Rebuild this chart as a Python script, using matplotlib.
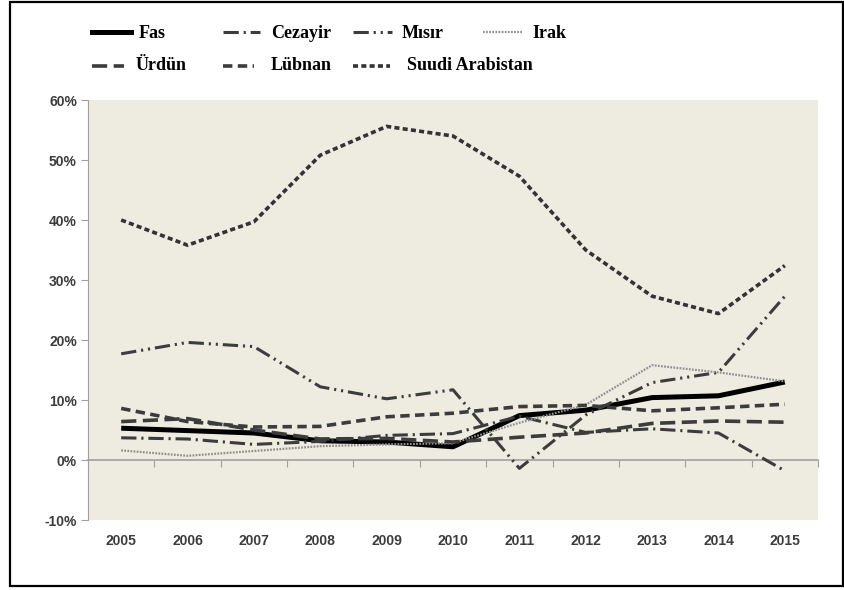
import numpy as np
from matplotlib import pyplot as plt
from matplotlib.lines import Line2D
from matplotlib.patches import Rectangle
from matplotlib.ticker import PercentFormatter

plt.rcParams["axes.unicode_minus"] = False

years = ["2005", "2006", "2007", "2008", "2009", "2010",
         "2011", "2012", "2013", "2014", "2015"]

fas = [5.3, 4.9, 4.5, 3.2, 3.0, 2.2, 7.4, 8.3, 10.4, 10.7, 13.0]
cezayir = [3.7, 3.5, 2.6, 3.1, 4.1, 4.4, 7.3, 4.6, 5.2, 4.5, -1.8]
misir = [17.7, 19.6, 18.9, 12.2, 10.2, 11.7, -1.4, 7.5, 12.9, 14.6, 27.3]
irak = [1.6, 0.7, 1.5, 2.3, 2.6, 2.8, 6.2, 9.2, 15.8, 14.6, 13.1]
urdun = [6.4, 6.9, 5.0, 3.5, 3.6, 3.0, 3.8, 4.5, 6.1, 6.5, 6.3]
lubnan = [8.6, 6.4, 5.5, 5.6, 7.2, 7.8, 8.9, 9.1, 8.2, 8.7, 9.3]
suudi = [40.0, 35.8, 39.7, 50.8, 55.6, 54.0, 47.3, 35.0, 27.3, 24.4, 32.4]

W, H = 845, 590
GRAY = "#a0a0a0"
DARK = "#3c3c3c"

# name, values, style
series = [
    ("Fas", fas, dict(color="black", lw=3.6, ls="-")),
    ("Cezayir", cezayir, dict(color=DARK, lw=2.2, ls=(0, (5, 1.6, 0.7, 1.6)))),
    ("Mısır", misir, dict(color=DARK, lw=2.2, ls=(0, (5, 1.6, 0.7, 1.6, 0.7, 1.6)))),
    ("Irak", irak, dict(color="#909090", lw=1.6, ls=(0, (0.8, 0.6)))),
    ("Ürdün", urdun, dict(color=DARK, lw=2.6, ls=(0, (4.2, 1.8)))),
    ("Lübnan", lubnan, dict(color=DARK, lw=2.6, ls=(0, (2.6, 1.5)))),
    ("Suudi Arabistan", suudi, dict(color="#333333", lw=2.6, ls=(0, (1.4, 0.9)))),
]

# legend layout in pixels: (handle x0, handle x1, text x, row)
legend_pos = {
    "Fas": (92, 131, 139, 0),
    "Cezayir": (223, 260, 271, 0),
    "Mısır": (353, 392, 402, 0),
    "Irak": (483, 522, 532, 0),
    "Ürdün": (92, 124, 136, 1),
    "Lübnan": (223, 254, 271, 1),
    "Suudi Arabistan": (353, 390, 407, 1),
}
row_line_y = [32, 66]
row_text_y = [38, 70]


def fx(px):
    return px / W


def fy(py):
    return 1 - py / H


def main():
    fig = plt.figure(figsize=(W / 100, H / 100), dpi=100)
    ax = fig.add_axes([fx(88), fy(520), fx(818) - fx(88), fy(100) - fy(520)])
    ax.set_facecolor("#eeebe1")

    x = np.arange(len(years))
    for name, vals, st in series:
        ax.plot(x, vals, label=name, solid_capstyle="butt",
                dash_capstyle="butt", **st)

    ax.set_xlim(-0.5, len(years) - 0.5)
    ax.set_ylim(-10, 60)
    ax.set_yticks(range(-10, 61, 10))
    ax.yaxis.set_major_formatter(PercentFormatter(decimals=0))
    ax.set_xticks(x, years)

    for s in ["top", "right", "bottom"]:
        ax.spines[s].set_visible(False)
    ax.spines["left"].set_color(GRAY)
    ax.tick_params(axis="x", length=0, pad=10, labelsize=10, labelcolor=DARK)
    ax.tick_params(axis="y", length=5, color=GRAY, labelsize=10,
                   labelcolor=DARK, pad=3)
    for lab in ax.get_xticklabels() + ax.get_yticklabels():
        lab.set_fontweight("bold")
        lab.set_family("Liberation Sans")

    # zero line with category ticks
    sec = ax.secondary_xaxis(10 / 70)
    sec.set_xticks(np.arange(-0.5, len(years), 1))
    sec.xaxis.set_ticks_position("bottom")
    sec.tick_params(direction="out", length=5, color=GRAY, labelbottom=False,
                    labeltop=False)
    for s in sec.spines.values():
        s.set_visible(False)
    sec.spines["bottom"].set_visible(True)
    sec.spines["bottom"].set_color(GRAY)
    sec.spines["bottom"].set_linewidth(1.2)

    # legend drawn row by row
    for name, vals, st in series:
        x0, x1, tx, row = legend_pos[name]
        fig.add_artist(Line2D([fx(x0), fx(x1)], [fy(row_line_y[row])] * 2,
                              transform=fig.transFigure, **st))
        fig.text(fx(tx), fy(row_text_y[row]), name, family="Liberation Serif",
                 fontweight="bold", fontsize=13, va="baseline", ha="left")

    fig.add_artist(Rectangle((fx(10), fy(586)), fx(843) - fx(10),
                             fy(2) - fy(586), transform=fig.transFigure,
                             fill=False, lw=1.6, ec="black"))

    fig.savefig("out.png", dpi=100)


if __name__ == "__main__":
    main()
